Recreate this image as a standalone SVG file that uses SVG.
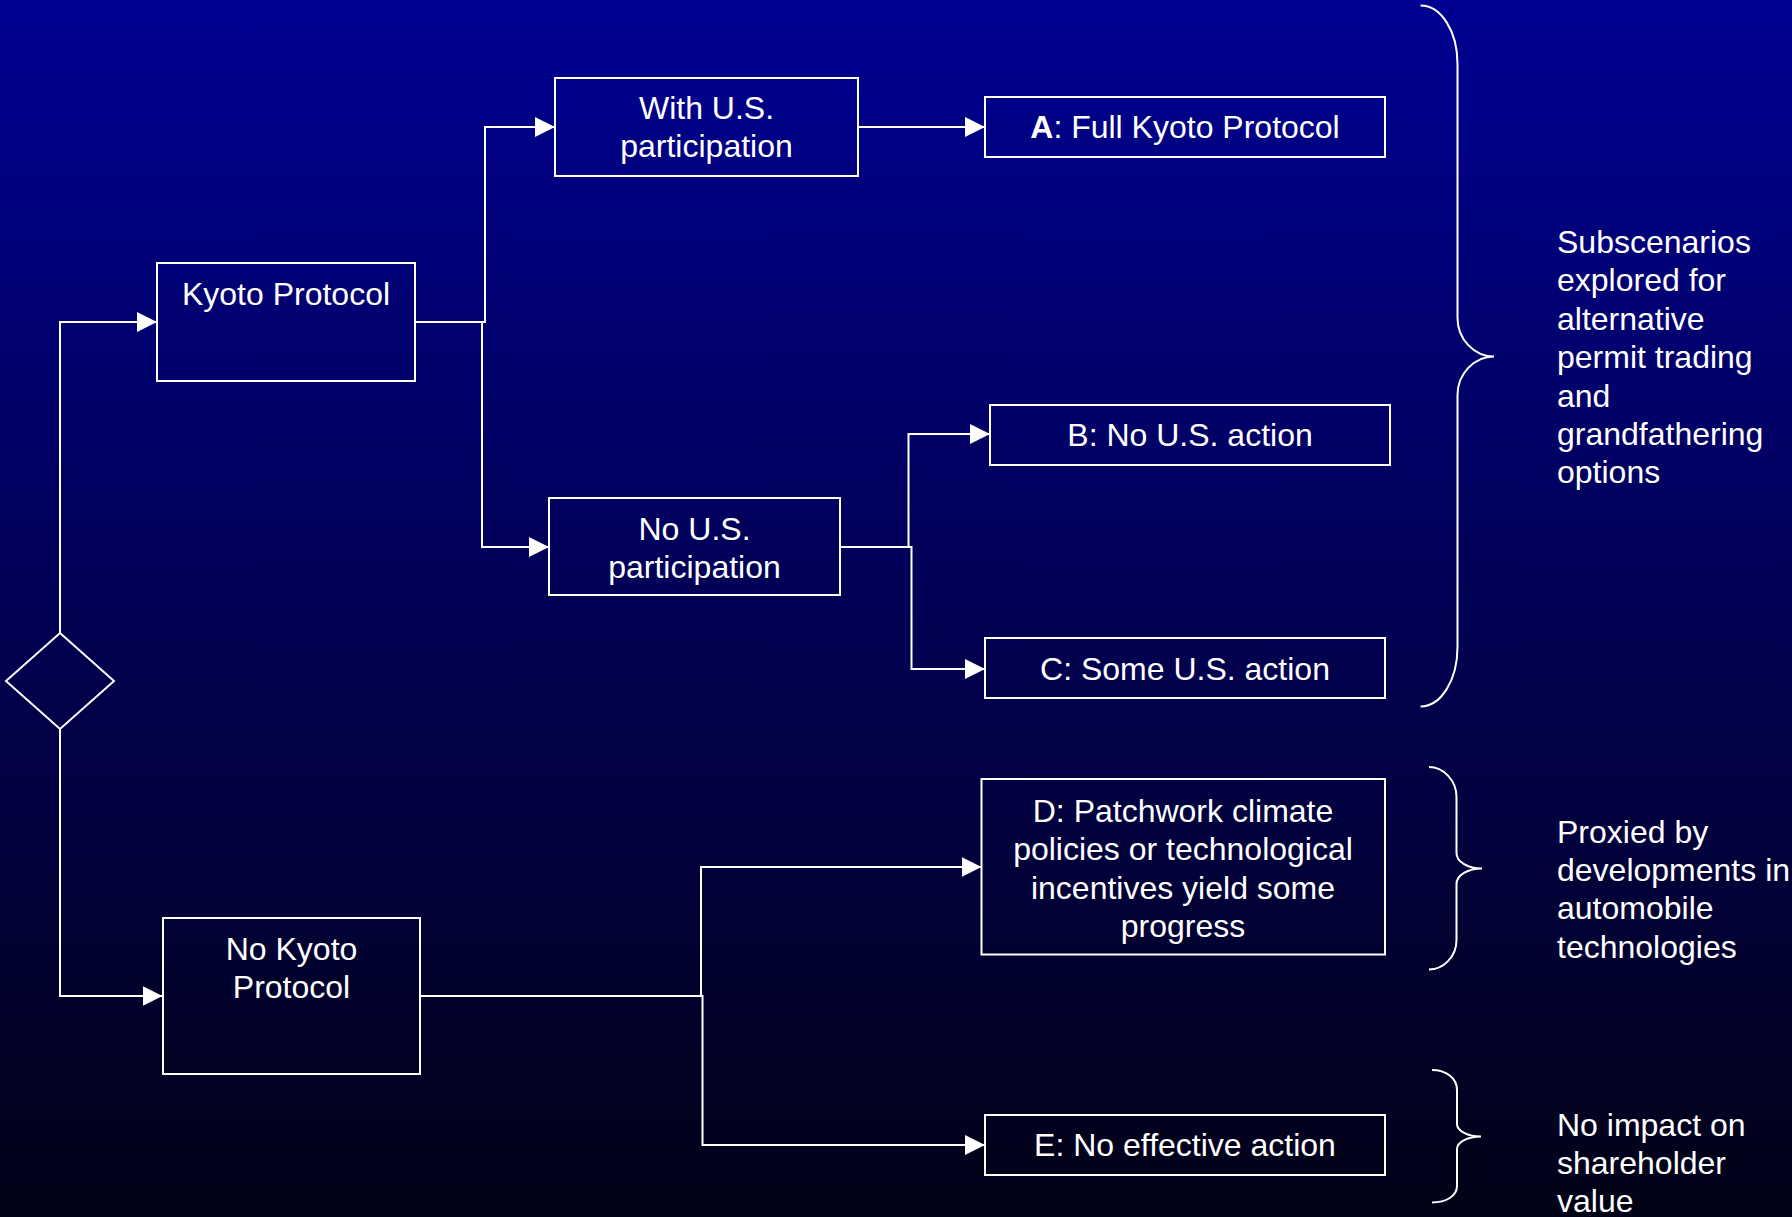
<svg xmlns="http://www.w3.org/2000/svg" width="1792" height="1217" viewBox="0 0 1792 1217">
  <defs>
    <linearGradient id="bg" x1="0" y1="0" x2="0" y2="1">
      <stop offset="0" stop-color="#000092"/>
      <stop offset="1" stop-color="#020216"/>
    </linearGradient>
    <marker id="arrow" markerUnits="userSpaceOnUse" markerWidth="20" markerHeight="20" refX="20" refY="10" orient="auto">
      <path d="M0,0 L20,10 L0,20 Z" fill="#ffffff"/>
    </marker>
    <style>
      .box { fill: none; stroke: #ffffff; stroke-width: 2; }
      .conn { fill: none; stroke: #ffffff; stroke-width: 2; marker-end: url(#arrow); }
      .brace { fill: none; stroke: #ffffff; stroke-width: 2; }
      text { font-family: "Liberation Sans", Arial, sans-serif; font-size: 32px; fill: #ffffff; }
      .c { text-anchor: middle; }
    </style>
  </defs>
  <rect x="0" y="0" width="1792" height="1217" fill="url(#bg)"/>

  <g id="connectors">
    <path class="conn" d="M60,633 L60,322 L157,322"/>
    <path class="conn" d="M60,729 L60,996 L162.5,996"/>
    <path class="conn" d="M415,322 L485,322 L485,127 L555,127"/>
    <path class="conn" d="M415,322 L482,322 L482,547 L549,547"/>
    <path class="conn" d="M858,127 L985,127"/>
    <path class="conn" d="M840,547 L908.5,547 L908.5,434 L990,434"/>
    <path class="conn" d="M840,547 L911.5,547 L911.5,669 L985,669"/>
    <path class="conn" d="M420,996 L701,996 L701,867 L981.5,867"/>
    <path class="conn" d="M420,996 L702.5,996 L702.5,1145 L985,1145"/>
  </g>

  <g id="decision">
    <polygon class="box" points="60,633 114,681 60,729 6,681"/>
  </g>

  <g id="kyoto">
    <rect class="box" x="157" y="263" width="258" height="118"/>
    <text class="c" x="286" y="304.5">Kyoto Protocol</text>
  </g>

  <g id="with-us">
    <rect class="box" x="555" y="78" width="303" height="98"/>
    <text class="c" x="706.5" y="118.6">With U.S.</text>
    <text class="c" x="706.5" y="157">participation</text>
  </g>

  <g id="no-us">
    <rect class="box" x="549" y="498" width="291" height="97"/>
    <text class="c" x="694.5" y="540">No U.S.</text>
    <text class="c" x="694.5" y="578.4">participation</text>
  </g>

  <g id="scenario-a">
    <rect class="box" x="985" y="97" width="400" height="60"/>
    <text class="c" x="1185" y="138"><tspan font-weight="bold">A</tspan>: Full Kyoto Protocol</text>
  </g>

  <g id="scenario-b">
    <rect class="box" x="990" y="405" width="400" height="60"/>
    <text class="c" x="1190" y="446">B: No U.S. action</text>
  </g>

  <g id="scenario-c">
    <rect class="box" x="985" y="638" width="400" height="60"/>
    <text class="c" x="1185" y="679.5">C: Some U.S. action</text>
  </g>

  <g id="no-kyoto">
    <rect class="box" x="163" y="918" width="257" height="156"/>
    <text class="c" x="291.5" y="960">No Kyoto</text>
    <text class="c" x="291.5" y="998.4">Protocol</text>
  </g>

  <g id="scenario-d">
    <rect class="box" x="981.5" y="779" width="403.5" height="175.5"/>
    <text class="c" x="1183" y="822">D: Patchwork climate</text>
    <text class="c" x="1183" y="860.4">policies or technological</text>
    <text class="c" x="1183" y="898.8">incentives yield some</text>
    <text class="c" x="1183" y="937.2">progress</text>
  </g>

  <g id="scenario-e">
    <rect class="box" x="985" y="1115" width="400" height="60"/>
    <text class="c" x="1185" y="1156">E: No effective action</text>
  </g>

  <g id="brace-1">
    <path class="brace" d="M1420.5,5.5 C1441,5.5 1457.5,31 1457.5,64 L1457.5,318 C1457.5,339 1474,356.5 1494,356.5 C1474,356.5 1457.5,374 1457.5,395 L1457.5,647 C1457.5,680 1441,706.5 1420.5,706.5"/>
    <text x="1557" y="253">Subscenarios</text>
    <text x="1557" y="291.4">explored for</text>
    <text x="1557" y="329.8">alternative</text>
    <text x="1557" y="368.2">permit trading</text>
    <text x="1557" y="406.6">and</text>
    <text x="1557" y="445">grandfathering</text>
    <text x="1557" y="483.4">options</text>
  </g>

  <g id="brace-2">
    <path class="brace" d="M1429,767 C1443,767 1456.5,780 1456.5,797 L1456.5,853 C1456.5,862 1468,868.5 1482,868.5 C1468,868.5 1456.5,875 1456.5,884 L1456.5,940 C1456.5,957 1443,969.5 1429,969.5"/>
    <text x="1557" y="842.5">Proxied by</text>
    <text x="1557" y="880.9">developments in</text>
    <text x="1557" y="919.3">automobile</text>
    <text x="1557" y="957.7">technologies</text>
  </g>

  <g id="brace-3">
    <path class="brace" d="M1432,1070 C1446,1070 1457,1078 1457,1090 L1457,1124 C1457,1131 1468,1136.5 1481,1136.5 C1468,1136.5 1457,1142 1457,1149 L1457,1186 C1457,1196 1446,1202.5 1432,1202.5"/>
    <text x="1557" y="1136">No impact on</text>
    <text x="1557" y="1174">shareholder</text>
    <text x="1557" y="1212">value</text>
  </g>
</svg>
